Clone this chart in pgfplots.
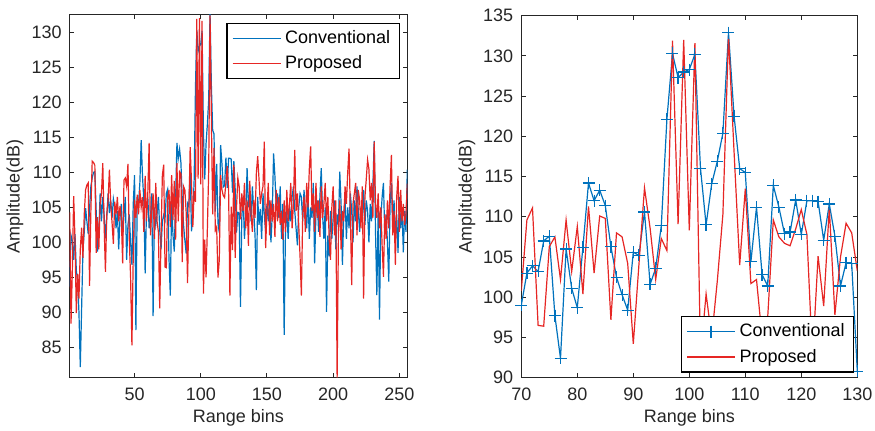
\documentclass[border=0pt]{standalone}
\usepackage{fontspec}
\setmainfont{Liberation Sans}
\usepackage{pgfplots}
\usepackage{pgfplotstable}
\pgfplotsset{compat=1.18}
\definecolor{convblue}{RGB}{0,114,189}
\definecolor{propred}{RGB}{230,38,36}
\definecolor{axgray}{RGB}{38,38,38}

% range bin, conventional, proposed (dB)
\pgfplotstableread{
n c p
1 93.7 104.3
2 101.0 88.4
3 100.2 96.0
4 97.5 106.6
5 101.2 100.5
6 96.0 89.9
7 94.5 95.5
8 90.0 92.0
9 82.2 99.0
10 90.5 102.1
11 98.9 97.8
12 101.5 104.0
13 104.9 107.5
14 103.0 108.2
15 101.2 108.5
16 104.8 93.8
17 108.0 104.5
18 109.2 111.6
19 110.0 111.4
20 110.1 111.0
21 104.5 98.5
22 98.7 103.6
23 101.5 99.0
24 107.0 105.5
25 103.0 107.0
26 106.5 111.3
27 104.0 102.5
28 100.6 95.8
29 103.5 104.0
30 107.0 106.0
31 104.2 110.4
32 106.0 105.5
33 103.5 102.8
34 106.2 99.8
35 105.0 105.8
36 102.0 104.0
37 104.5 106.5
38 99.0 103.0
39 103.5 105.2
40 105.5 103.5
41 101.0 97.0
42 103.8 108.9
43 106.5 109.2
44 97.5 108.0
45 102.5 111.2
46 104.0 100.5
47 100.0 95.0
48 96.8 85.3
49 105.5 98.0
50 109.6 106.1
51 87.5 103.5
52 106.0 106.8
53 105.5 104.0
54 108.5 107.5
55 114.6 105.0
56 109.4 106.5
57 106.0 101.5
58 95.6 109.5
59 104.5 103.0
60 106.5 107.0
61 102.0 114.2
62 103.5 101.0
63 107.0 104.5
64 89.5 107.0
65 105.0 100.5
66 102.5 108.5
67 104.0 103.0
68 106.5 101.5
69 101.8 90.6
70 99.0 100.8
71 103.0 109.6
72 103.9 111.1
73 103.2 96.5
74 107.0 96.4
75 107.6 106.3
76 97.7 107.5
77 92.4 102.2
78 106.0 109.6
79 101.1 103.2
80 98.7 108.8
81 106.2 100.4
82 114.2 111.3
83 112.0 103.0
84 113.3 110.1
85 111.4 109.8
86 106.3 97.2
87 102.5 108.0
88 100.3 107.5
89 98.4 104.2
90 105.6 94.2
91 105.2 104.0
92 110.6 113.6
93 101.6 108.6
94 103.6 102.2
95 108.9 107.3
96 122.1 105.8
97 130.3 131.9
98 127.3 109.1
99 128.0 132.0
100 128.3 108.3
101 130.2 131.6
102 116.0 92.7
103 109.0 100.4
104 114.1 95.0
105 116.9 102.0
106 120.4 110.3
107 132.9 132.4
108 122.5 118.0
109 116.0 104.0
110 115.5 113.5
111 104.4 101.7
112 111.2 102.2
113 102.8 95.0
114 101.4 97.5
115 113.9 109.6
116 111.2 107.5
117 107.9 106.7
118 108.1 106.4
119 112.1 108.5
120 107.8 110.9
121 112.0 107.8
122 112.0 92.4
123 111.9 105.1
124 107.1 98.9
125 111.6 111.1
126 107.6 97.8
127 101.4 105.0
128 104.3 109.2
129 104.2 108.0
130 90.8 103.3
131 103.5 107.0
132 106.5 104.5
133 100.5 108.5
134 104.0 102.0
135 110.6 106.0
136 105.0 99.5
137 107.0 108.8
138 103.0 104.0
139 108.0 101.5
140 104.5 106.0
141 101.0 103.5
142 93.2 109.9
143 106.5 112.3
144 102.5 109.0
145 104.8 105.5
146 100.5 107.0
147 107.0 108.0
148 104.0 114.4
149 101.5 99.2
150 105.5 104.5
151 103.0 108.5
152 106.0 101.0
153 100.0 106.0
154 104.0 103.0
155 112.7 105.5
156 109.5 100.8
157 105.0 107.5
158 107.0 103.0
159 103.5 106.5
160 108.0 102.5
161 100.5 104.5
162 105.5 100.4
163 86.8 106.0
164 102.0 101.5
165 104.5 107.5
166 100.5 103.0
167 105.0 105.5
168 103.0 108.5
169 106.5 102.0
170 108.0 105.5
171 104.5 113.2
172 102.0 104.5
173 99.6 107.0
174 105.0 102.5
175 107.0 98.0
176 106.5 92.4
177 103.0 104.0
178 107.5 106.5
179 104.5 101.5
180 102.0 108.5
181 106.5 105.0
182 100.5 110.5
183 105.0 113.7
184 103.5 104.5
185 108.5 107.0
186 97.0 101.5
187 104.0 108.5
188 106.0 103.5
189 101.5 106.0
190 106.5 100.8
191 110.6 108.0
192 104.0 103.5
193 100.5 105.5
194 105.0 108.5
195 90.1 103.0
196 101.0 106.5
197 98.0 100.5
198 104.5 97.5
199 100.5 105.0
200 103.5 108.0
201 106.0 101.0
202 99.0 106.0
203 104.0 80.7
204 102.5 101.5
205 110.1 106.0
206 105.5 99.0
207 96.8 104.5
208 104.0 103.0
209 106.5 108.0
210 100.5 105.5
211 105.0 110.0
212 102.0 113.4
213 107.0 104.0
214 104.5 93.9
215 100.0 105.5
216 106.0 107.0
217 103.0 108.5
218 108.0 101.0
219 104.5 107.5
220 101.5 106.0
221 105.0 102.0
222 103.0 108.0
223 107.5 92.0
224 102.5 106.5
225 106.0 109.0
226 104.5 111.8
227 100.0 110.5
228 105.5 106.0
229 103.0 108.5
230 108.0 103.5
231 114.5 114.4
232 101.5 105.5
233 92.5 103.5
234 104.5 107.0
235 89.0 102.0
236 103.5 105.0
237 106.5 99.5
238 108.5 95.1
239 101.0 104.0
240 104.0 100.5
241 100.0 106.0
242 94.4 102.0
243 105.5 108.0
244 108.5 112.5
245 102.5 101.0
246 106.0 104.5
247 100.5 96.8
248 104.0 106.5
249 98.5 109.5
250 106.5 101.5
251 102.0 107.5
252 105.0 103.0
253 98.6 105.5
254 104.5 102.5
255 101.5 104.0
256 110.4 108.4
}\rangedata

\pgfplotsset{
  matlab/.style={
    scale only axis,
    axis line style={axgray, line width=0.5pt},
    every tick/.style={axgray, line width=0.5pt},
    tick align=inside,
    major tick length=2.2pt,
    font=\fontsize{9}{10.8}\selectfont,
    /pgf/number format/assume math mode=true,
    tick label style={font=\fontsize{9}{10.8}\selectfont, text=axgray},
    xticklabel style={yshift=-1.5pt},
    yticklabel style={xshift=-0.5pt},
    label style={font=\fontsize{9}{10.8}\selectfont, text=axgray},
    xlabel={Range bins},
    ylabel={Amplitude(dB)},
    xlabel style={at={(axis description cs:0.5,-0.111)}, anchor=center},
    ylabel style={at={(axis description cs:-0.162,0.5)}, anchor=center, rotate=0},
    legend cell align=left,
    legend style={font=\fontsize{9}{10.8}\selectfont, draw=black, line width=0.6pt,
      fill=white, inner xsep=2.5pt, inner ysep=1.5pt, row sep=0.6pt},
    legend image code/.code={
      \draw[mark repeat=2,mark phase=2,#1]
        plot coordinates {(0pt,0pt) (12pt,0pt) (24pt,0pt)};},
  },
}

\begin{document}
\begin{tikzpicture}
\path[use as bounding box] (-34.85pt,-26.65pt) rectangle (402.65pt,188.85pt);

\begin{axis}[matlab,
  at={(0pt,0pt)}, anchor=south west,
  width=168.8pt, height=181.5pt,
  xmin=1, xmax=256, ymin=80.7, ymax=132.5,
  xtick={50,100,150,200,250},
  ytick={85,90,...,130},
  legend style={at={(axis description cs:0.978,0.978)}, anchor=north east},
]
\addplot[convblue, line width=0.6pt] table[x=n, y=c] {\rangedata};
\addlegendentry{Conventional}
\addplot[propred, line width=0.6pt] table[x=n, y=p] {\rangedata};
\addlegendentry{Proposed}
\end{axis}

\begin{axis}[matlab,
  at={(225.8pt,0pt)}, anchor=south west,
  width=168pt, height=181pt,
  xmin=70, xmax=130, ymin=90, ymax=135,
  xtick={70,80,...,130},
  ytick={90,95,...,135},
  legend style={at={(axis description cs:0.991,0.014)}, anchor=south east},
]
\addplot[convblue, line width=0.6pt, mark=+, mark size=3pt,
  mark options={line width=0.6pt}, restrict x to domain=70:130]
  table[x=n, y=c] {\rangedata};
\addlegendentry{Conventional}
\addplot[propred, line width=0.6pt, restrict x to domain=70:130]
  table[x=n, y=p] {\rangedata};
\addlegendentry{Proposed}
\end{axis}
\end{tikzpicture}
\end{document}
